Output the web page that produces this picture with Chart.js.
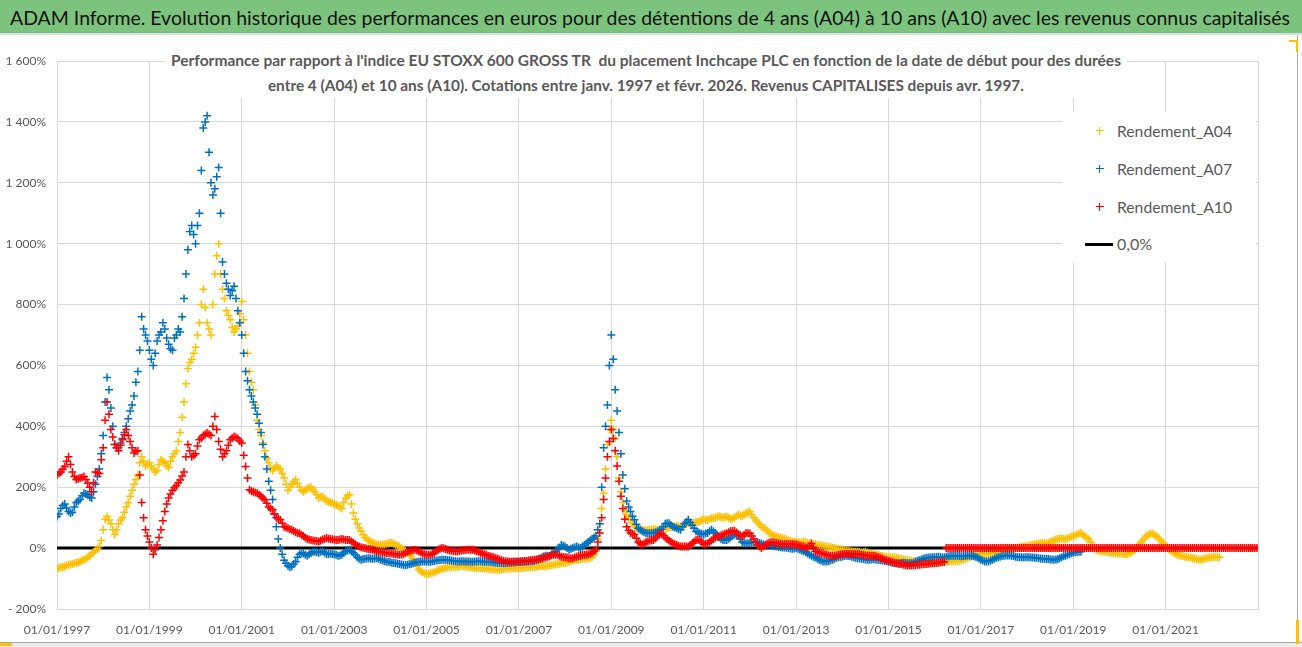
<!DOCTYPE html>
<html lang="fr">
<head>
<meta charset="UTF-8">
<title>Inchcape PLC - performances A04 / A07 / A10</title>
<script src="https://cdn.jsdelivr.net/npm/chart.js"></script>
<style>
  body { margin: 0; background: #fff; font-family: Lato, "Open Sans", sans-serif; }
  #page { position: relative; width: 1302px; height: 647px; overflow: hidden; background: #fff; }
  #chart { position: absolute; left: 0; top: 0; }
  #banner { position: absolute; left: 0; top: 0; width: 1302px; height: 33px; background: #7cc47d;
            border-bottom: 2px solid #dcdcdc; box-sizing: content-box; }
  #banner span { position: absolute; left: 10px; top: 4px; font-size: 20px; line-height: 26px; color: #111;
                 white-space: nowrap; transform-origin: left center; }
  #subtitle { position: absolute; left: 165px; top: 48px; width: 962px; height: 50px; background: #fff;
              text-align: center; color: #595959; font-weight: bold; font-size: 15px; line-height: 25px; }
  #subtitle span { display: inline-block; white-space: nowrap; transform-origin: center center; }
  #legend { position: absolute; left: 1062px; top: 112px; width: 194px; height: 150px; background: #fff; }
  .item { position: absolute; left: 0; height: 24px; width: 194px; }
  .item .cross { position: absolute; left: 34px; top: 8px; width: 8px; height: 8px; }
  .item .line { position: absolute; left: 23px; top: 10.5px; width: 28px; height: 3px; background: #000; }
  .item .txt { position: absolute; left: 55px; top: 0; font-size: 16px; line-height: 24px; color: #595959;
               white-space: nowrap; transform-origin: left center; }
  .frame-r { position: absolute; left: 1297px; top: 35px; width: 1px; height: 607px; background: #b0b0b0; }
  .frame-b { position: absolute; left: 0; top: 642px; width: 1302px; height: 5px; background: #ececec;
             border-top: 1px solid #a8a8a8; }
  .handle { position: absolute; background: #ffc000; }
</style>
</head>
<body>
<div id="page">
  <canvas id="chart" width="1302" height="647"></canvas>
  <div id="banner"><span id="bannerText">ADAM Informe. Evolution historique des performances en euros pour des détentions de 4 ans (A04) à 10 ans (A10) avec les revenus connus capitalisés</span></div>
  <div id="subtitle">
    <span id="sub1">Performance par rapport à l'indice EU STOXX 600 GROSS TR&nbsp; du placement Inchcape PLC en fonction de la date de début pour des durées</span><br>
    <span id="sub2">entre 4 (A04) et 10 ans (A10). Cotations entre janv. 1997 et févr. 2026. Revenus CAPITALISES depuis avr. 1997.</span>
  </div>
  <div id="legend"></div>
  <div class="frame-r"></div>
  <div class="frame-b"></div>
  <div class="handle" style="left:1289px;top:40px;width:9px;height:2px"></div>
  <div class="handle" style="left:1296px;top:40px;width:2px;height:12px"></div>
  <div class="handle" style="left:1296px;top:620px;width:3px;height:24px"></div>
  <div class="handle" style="left:0;top:643px;width:12px;height:3px"></div>
</div>

<script>
// values in %, two readings per month, first one = 1st janv. 1997
const startYear = 1997;
const perYear = 24;

const rendementA04 = [
  -68,-65, -62,-63, -60,-57, -55,-54, -52,-50, -48,-47, -44,-41, -38,-35, -30,-25, -18,-14, -8,-2, 5,25,                 // 1997
  60,95, 104,92, 80,60, 45,60, 80,92, 100,118, 135,150, 170,190, 210,225, 240,280, 300,285, 270,275,                     // 1998
  280,268, 260,250, 255,275, 290,285, 280,270, 265,285, 300,310, 320,350, 380,430, 480,540, 590,610, 620,640,            // 1999
  660,700, 740,800, 850,790, 740,720, 700,800, 900,960, 1000,900, 850,820, 780,765, 750,725, 710,720, 730,770,           // 2000
  810,750, 700,640, 580,545, 520,470, 420,390, 370,345, 320,295, 280,262, 255,262, 270,265, 260,245, 230,210,            // 2001
  190,200, 210,218, 225,212, 200,190, 185,190, 195,198, 200,192, 185,175, 165,168, 170,162, 155,152, 150,148,            // 2002
  145,142, 140,135, 130,150, 165,172, 175,145, 115,95, 80,66, 55,44, 35,30, 25,21, 18,15, 12,11,                         // 2003
  10,11, 12,14, 15,17, 18,14, 10,8, 5,0, -5,-10, -15,-20, -25,-35, -45,-58, -70,-76, -80,-83,                            // 2004
  -85,-84, -82,-81, -80,-76, -72,-70, -68,-66, -65,-63, -62,-61, -60,-61, -62,-60, -58,-59, -60,-61, -62,-63,            // 2005
  -64,-65, -66,-65, -65,-66, -67,-67, -68,-69, -70,-70, -70,-71, -71,-70, -69,-68, -68,-67, -67,-66, -66,-66,            // 2006
  -66,-65, -65,-64, -64,-63, -62,-62, -62,-61, -60,-59, -58,-59, -60,-58, -57,-56, -55,-53, -52,-51, -50,-50,            // 2007
  -50,-47, -45,-42, -40,-39, -38,-37, -36,-35, -35,-34, -34,-32, -30,-22, -10,30, 80,130, 180,260, 340,390,              // 2008
  420,390, 360,300, 230,185, 150,125, 110,100, 93,82, 75,68, 62,61, 60,59, 58,59, 60,61, 62,61,                          // 2009
  60,61, 62,63, 65,66, 68,69, 70,71, 72,72, 71,73, 75,78, 82,81, 80,83, 85,86, 88,92,                                    // 2010
  95,93, 92,95, 98,99, 100,103, 105,102, 100,102, 104,99, 95,97, 100,105, 110,107, 105,110, 115,118,                     // 2011
  120,110, 100,92, 85,78, 70,67, 65,58, 50,46, 42,40, 38,36, 35,32, 30,28, 25,23, 22,21,                                 // 2012
  20,19, 18,19, 20,19, 18,16, 15,13, 12,11, 10,9, 8,6, 5,4, 3,1, 0,-2, -3,-4,                                            // 2013
  -5,-6, -8,-9, -10,-11, -12,-12, -12,-13, -15,-14, -13,-15, -18,-19, -20,-21, -22,-23, -25,-26, -28,-29,                // 2014
  -30,-30, -30,-31, -32,-33, -35,-36, -38,-39, -40,-41, -42,-43, -44,-44, -45,-45, -44,-44, -45,-45, -44,-43,            // 2015
  -42,-43, -44,-44, -45,-45, -44,-43, -43,-43, -44,-43, -42,-41, -40,-38, -35,-33, -30,-28, -25,-22, -20,-19,            // 2016
  -18,-19, -20,-20, -19,-17, -15,-13, -12,-11, -10,-9, -8,-6, -5,-3, -2,-1, 0,1, 2,3, 5,5,                               // 2017
  6,8, 10,11, 12,13, 15,16, 18,17, 15,17, 20,22, 25,28, 30,31, 32,31, 30,32, 35,37,                                      // 2018
  40,42, 45,48, 50,44, 38,34, 30,20, 10,2, -5,-8, -10,-11, -12,-12, -13,-14, -15,-16, -18,-18,                           // 2019
  -18,-18, -19,-19, -20,-18, -15,-10, -5,2, 10,18, 25,32, 40,44, 48,47, 45,40, 35,28, 20,15,                             // 2020
  10,2, -5,-10, -15,-18, -22,-24, -25,-26, -28,-29, -30,-31, -33,-34, -36,-37, -38,-37, -35,-33, -32,-31,                // 2021
  -30,-29, -28,-29, -30                                                                                                  // 2022
];

const rendementA07 = [
  104,112, 130,140, 145,132, 120,115, 118,135, 150,155, 160,172, 180,178, 175,168, 165,185, 210,235, 260,310,            // 1997
  370,480, 560,520, 460,400, 340,330, 330,345, 360,380, 400,425, 450,470, 500,545, 580,650, 760,720, 700,680,            // 1998
  650,620, 600,640, 680,700, 710,740, 720,690, 670,655, 650,690, 700,720, 710,760, 820,900, 980,1040, 1060,1030,         // 1999
  1000,1060, 1100,1240, 1380,1400, 1420,1300, 1200,1160, 1180,1220, 1250,1100, 940,900, 870,850, 830,845, 860,820, 780,740, // 2000
  700,640, 580,550, 520,500, 480,460, 440,410, 380,340, 300,260, 220,190, 160,110, 70,30, 0,-20, -40,-50,                // 2001
  -58,-62, -60,-52, -45,-30, -20,-15, -18,-22, -25,-20, -15,-12, -12,-14, -15,-12, -10,-15, -20,-19, -18,-19,            // 2002
  -20,-22, -25,-24, -22,-16, -10,-8, -5,-10, -15,-22, -30,-35, -38,-36, -35,-34, -33,-34, -35,-34, -33,-35,              // 2003
  -38,-40, -42,-44, -45,-46, -48,-49, -50,-51, -52,-54, -55,-56, -55,-53, -52,-50, -48,-46, -45,-44, -44,-44,            // 2004
  -44,-45, -45,-43, -42,-41, -40,-39, -38,-38, -38,-39, -40,-41, -42,-43, -44,-44, -43,-43, -44,-44, -44,-45,            // 2005
  -45,-44, -44,-43, -43,-44, -45,-45, -44,-45, -46,-47, -48,-48, -48,-49, -50,-50, -49,-48, -48,-47, -47,-46,            // 2006
  -46,-46, -45,-45, -44,-44, -44,-43, -42,-40, -38,-34, -30,-27, -25,-26, -27,-21, -15,-10, -5,2, 10,8,                  // 2007
  5,0, -5,-2, 0,3, 5,2, 0,5, 10,15, 20,25, 30,35, 40,60, 80,200, 330,400, 470,600,                                       // 2008
  700,620, 520,450, 380,310, 240,195, 155,135, 120,105, 93,78, 65,60, 55,52, 50,49, 48,49, 50,52,                        // 2009
  55,58, 62,70, 80,82, 82,76, 70,68, 65,62, 60,70, 80,86, 93,84, 75,65, 55,52, 49,47,                                    // 2010
  45,48, 50,55, 60,55, 50,42, 35,30, 27,27, 27,31, 35,40, 45,42, 40,30, 20,17, 15,16,                                    // 2011
  18,19, 20,20, 19,17, 15,12, 10,11, 12,10, 8,6, 5,4, 3,2, 2,1, 0,-1, -2,-1,                                             // 2012
  0,-2, -5,-8, -10,-14, -18,-22, -25,-28, -31,-35, -38,-41, -44,-44, -44,-42, -40,-38, -35,-32, -30,-29,                 // 2013
  -28,-26, -25,-26, -27,-28, -30,-32, -33,-34, -35,-36, -37,-38, -38,-37, -36,-37, -38,-39, -40,-41, -42,-43,            // 2014
  -45,-46, -48,-49, -50,-50, -50,-49, -48,-49, -50,-50, -50,-48, -45,-42, -40,-38, -35,-33, -32,-31, -31,-30,            // 2015
  -30,-29, -28,-29, -31,-30, -28,-27, -26,-25, -25,-25, -25,-26, -27,-26, -25,-24, -24,-25, -26,-28, -30,-34,            // 2016
  -38,-41, -44,-44, -44,-41, -38,-35, -32,-30, -28,-26, -25,-24, -24,-24, -25,-26, -28,-29, -30,-30, -31,-30,            // 2017
  -30,-30, -31,-31, -32,-32, -33,-34, -35,-35, -36,-36, -37,-37, -38,-37, -36,-33, -30,-27, -25,-22, -20,-17,            // 2018
  -15,-14, -13,-12, -12                                                                                                  // 2019
];

const rendementA10 = [
  240,245, 250,260, 268,285, 300,275, 250,235, 225,228, 230,232, 235,225, 213,200, 185,215, 250,248, 245,290,            // 1997
  330,420, 480,440, 390,365, 340,330, 320,338, 356,372, 390,370, 350,330, 312,318, 320,240, 150,100, 60,40,              // 1998
  20,0, -20,-5, 10,35, 60,90, 120,145, 165,178, 190,198, 205,215, 224,237, 250,300, 340,320, 300,305,                    // 1999
  310,335, 356,362, 370,374, 378,374, 370,400, 432,390, 350,325, 300,310, 320,338, 356,362, 367,364, 360,352,            // 2000
  345,305, 268,230, 192,188, 185,183, 181,175, 170,165, 159,147, 135,130, 126,113, 100,96, 93,82, 70,68,                 // 2001
  65,62, 60,56, 52,50, 49,44, 40,35, 30,28, 27,25, 24,23, 22,25, 28,30, 33,31, 30,29,                                    // 2002
  28,27, 27,28, 30,28, 27,27, 27,22, 18,13, 8,5, 3,1, 0,-2, -3,-4, -5,-8, -10,-11,                                       // 2003
  -12,-14, -15,-16, -16,-17, -18,-19, -20,-21, -22,-21, -20,-16, -12,-10, -8,-6, -5,-8, -10,-14, -18,-20,                // 2004
  -22,-22, -22,-18, -15,-10, -5,-2, 0,-1, -3,-5, -8,-9, -10,-10, -11,-9, -8,-7, -6,-5, -5,-5,                            // 2005
  -5,-8, -10,-12, -15,-18, -20,-22, -25,-27, -28,-30, -33,-35, -38,-40, -42,-43, -44,-45, -45,-44, -44,-44,              // 2006
  -44,-43, -43,-42, -42,-41, -40,-39, -38,-37, -36,-35, -35,-32, -30,-28, -25,-23, -22,-22, -22,-25, -28,-29,            // 2007
  -30,-31, -33,-33, -33,-30, -28,-26, -25,-23, -22,-21, -20,-18, -15,-10, -5,20, 50,100, 160,230, 300,350,               // 2008
  390,360, 320,270, 220,170, 130,95, 70,58, 50,47, 45,32, 20,15, 11,15, 20,22, 25,26, 27,33,                             // 2009
  40,45, 49,42, 35,30, 25,20, 16,13, 10,7, 5,5, 5,5, 5,10, 15,21, 27,27, 27,20,                                          // 2010
  13,14, 15,20, 25,30, 35,37, 38,42, 45,47, 49,52, 55,56, 57,51, 45,42, 38,44, 50,49,                                    // 2011
  48,40, 30,20, 10,5, 0,5, 10,14, 18,19, 19,17, 16,15, 14,13, 13,13, 13,13, 13,12,                                       // 2012
  12,10, 8,6, 5,2, 0,8, 15,3, -10,-12, -15,-17, -18,-20, -22,-24, -25,-25, -25,-24, -22,-21,                             // 2013
  -20,-19, -19,-19, -19,-20, -20,-19, -19,-20, -22,-23, -24,-25, -25,-25, -25,-26, -28,-30, -33,-35, -38,-40,            // 2014
  -42,-44, -46,-48, -50,-51, -52,-53, -55,-56, -57,-57, -57,-56, -56,-55, -55,-54, -53,-52, -52,-51, -50,-50,            // 2015
  -50,-49, -48,-47, -46,-46, 0,0, 0,0, 0,0, 0,0, 0,0, 0,0, 0,0, 0,0, 0,0,                                                // 2016
  0,0, 0,0, 0,0, 0,0, 0,0, 0,0, 0,0, 0,0, 0,0, 0,0, 0,0, 0,0,                                                            // 2017
  0,0, 0,0, 0,0, 0,0, 0,0, 0,0, 0,0, 0,0, 0,0, 0,0, 0,0, 0,0,                                                            // 2018
  0,0, 0,0, 0,0, 0,0, 0,0, 0,0, 0,0, 0,0, 0,0, 0,0, 0,0, 0,0,                                                            // 2019
  0,0, 0,0, 0,0, 0,0, 0,0, 0,0, 0,0, 0,0, 0,0, 0,0, 0,0, 0,0,                                                            // 2020
  0,0, 0,0, 0,0, 0,0, 0,0, 0,0, 0,0, 0,0, 0,0, 0,0, 0,0, 0,0,                                                            // 2021
  0,0, 0,0, 0,0, 0,0, 0,0, 0,0, 0,0, 0,0, 0,0, 0,0, 0,0, 0,0,                                                            // 2022
  0                                                                                                                      // 2023
];

// the 0,0% reference line
const zeroDates = [1997, 2023];
const zeroValues = [0, 0];

const seriesLabels = ['Rendement_A04', 'Rendement_A07', 'Rendement_A10', '0,0%'];

function toPoints(values) {
  return values.map((v, i) => ({ x: startYear + i / perYear, y: v }));
}

function pctLabel(v) {
  const s = Math.abs(v).toString().replace(/\B(?=(\d{3})+(?!\d))/g, ' ');
  return (v < 0 ? '- ' : '') + s + '%';
}

function crossSet(label, values, color, order) {
  return {
    label: label,
    data: toPoints(values),
    pointStyle: 'cross',
    pointRadius: 4,
    pointBorderWidth: 1.5,
    borderColor: color,
    backgroundColor: color,
    showLine: false,
    order: order
  };
}

const gridColor = '#d9d9d9';
const tickColor = '#595959';

const chart = new Chart(document.getElementById('chart'), {
  type: 'scatter',
  data: {
    datasets: [
      crossSet(seriesLabels[0], rendementA04, '#ffc000', 2),
      crossSet(seriesLabels[1], rendementA07, '#0070c0', 1),
      crossSet(seriesLabels[2], rendementA10, '#ff0000', 0),
      {
        label: seriesLabels[3],
        data: zeroDates.map((d, i) => ({ x: d, y: zeroValues[i] })),
        showLine: true,
        borderColor: '#000',
        borderWidth: 3,
        pointRadius: 0,
        order: 3
      }
    ]
  },
  options: {
    responsive: false,
    animation: false,
    layout: { padding: { top: 61, right: 44, left: 0, bottom: 0 } },
    plugins: { legend: { display: false }, tooltip: { enabled: false } },
    scales: {
      x: {
        type: 'linear',
        min: 1997,
        max: 2023,
        afterFit: s => { s.height = 38; },
        grid: { color: gridColor, drawTicks: false },
        border: { color: gridColor },
        ticks: {
          stepSize: 2,
          autoSkip: false,
          maxRotation: 0,
          padding: 14,
          color: tickColor,
          font: { family: 'Lato', size: 12 },
          callback: v => (v < 2023 ? '01/01/' + v : '')
        }
      },
      y: {
        min: -200,
        max: 1600,
        afterFit: s => { s.width = 57; },
        grid: { color: gridColor, drawTicks: false },
        border: { color: gridColor },
        ticks: {
          stepSize: 200,
          padding: 11,
          color: tickColor,
          font: { family: 'Lato', size: 12 },
          callback: v => pctLabel(v)
        }
      }
    }
  }
});

// html legend built from the chart datasets
const legend = document.getElementById('legend');
const rowTops = [7, 45, 83, 120];
chart.data.datasets.forEach((ds, i) => {
  const row = document.createElement('div');
  row.className = 'item';
  row.style.top = rowTops[i] + 'px';
  const mark = document.createElement('div');
  if (ds.showLine) {
    mark.className = 'line';
  } else {
    mark.className = 'cross';
    const c = ds.borderColor;
    mark.style.background =
      `linear-gradient(${c},${c}) center / 1.3px 100% no-repeat, linear-gradient(${c},${c}) center / 100% 1.3px no-repeat`;
  }
  const txt = document.createElement('span');
  txt.className = 'txt';
  txt.textContent = ds.label;
  row.appendChild(mark);
  row.appendChild(txt);
  legend.appendChild(row);
});

function fitWidth(el, target) {
  const w = el.getBoundingClientRect().width;
  if (w > 0) el.style.transform = 'scaleX(' + (target / w) + ')';
}
fitWidth(document.getElementById('bannerText'), 1280);
fitWidth(document.getElementById('sub1'), 950);
fitWidth(document.getElementById('sub2'), 756);
const legendTexts = legend.querySelectorAll('.txt');
[115, 115, 115, 0].forEach((w, i) => { if (w) fitWidth(legendTexts[i], w); });
</script>
</body>
</html>
